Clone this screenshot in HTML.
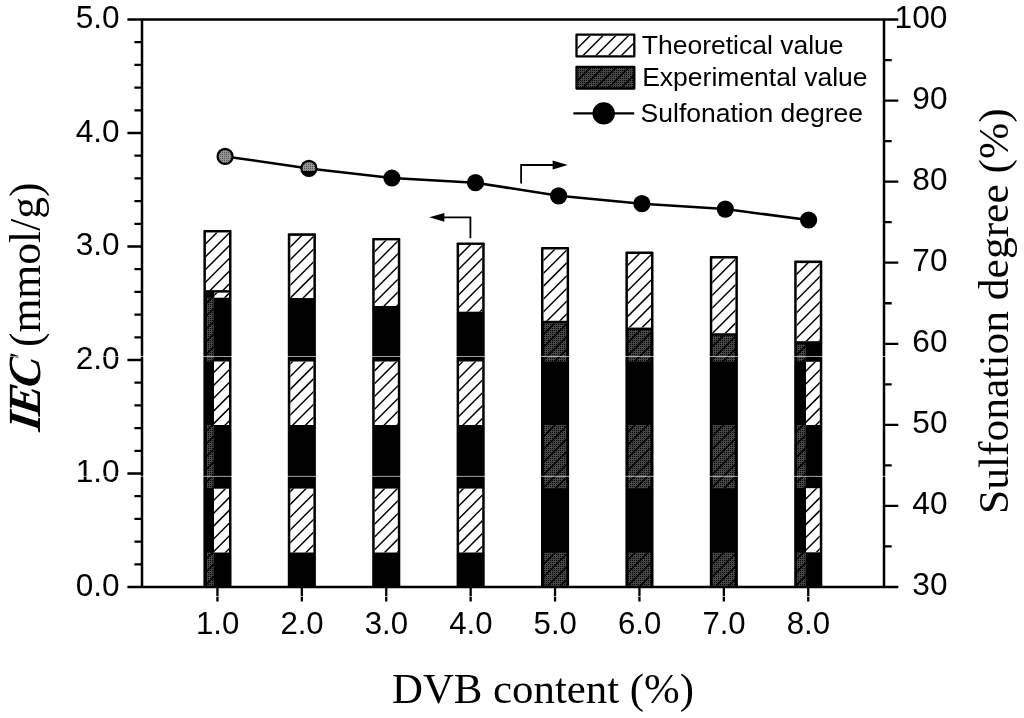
<!DOCTYPE html>
<html lang="en"><head><meta charset="utf-8"><title>IEC and sulfonation degree vs DVB content</title>
<style>html,body{margin:0;padding:0;background:#fff;}body{width:1024px;height:718px;overflow:hidden;}svg{display:block;}text{fill:#000;}</style>
</head><body>
<svg width="1024" height="718" viewBox="0 0 1024 718" role="img" aria-label="IEC and sulfonation degree versus DVB content">
<defs>
<pattern id="gp" width="2" height="2" patternUnits="userSpaceOnUse"><rect width="2" height="2" fill="#474747"/><rect x="0" y="0" width="1" height="1" fill="#000"/></pattern>
<pattern id="gl" width="2" height="2" patternUnits="userSpaceOnUse"><rect width="2" height="2" fill="#949494"/><rect x="0" y="0" width="1" height="1" fill="#555"/></pattern>
</defs>
<rect width="1024" height="718" fill="#fff"/>
<rect x="203.40" y="229.96" width="28.10" height="357.64" rx="0.9" fill="#000"/>
<rect x="205.90" y="232.46" width="23.10" height="57.65" fill="#fff"/>
<clipPath id="c1"><rect x="205.90" y="232.46" width="23.10" height="57.65"/></clipPath>
<path clip-path="url(#c1)" d="M203.90 219.98L231.00 192.88M203.90 232.76L231.00 205.66M203.90 245.54L231.00 218.44M203.90 258.32L231.00 231.22M203.90 271.10L231.00 244.00M203.90 283.88L231.00 256.78M203.90 296.66L231.00 269.56M203.90 309.44L231.00 282.34M203.90 322.22L231.00 295.12M203.90 335.00L231.00 307.90" stroke="#000" stroke-width="1.45" fill="none"/>
<rect x="214.30" y="292.62" width="14.70" height="5.08" fill="#fff"/>
<clipPath id="c2"><rect x="214.30" y="292.62" width="14.70" height="5.08"/></clipPath>
<path clip-path="url(#c2)" d="M212.30 271.74L231.00 253.04M212.30 284.51L231.00 265.81M212.30 297.29L231.00 278.59M212.30 310.08L231.00 291.38M212.30 322.86L231.00 304.15M212.30 335.63L231.00 316.93" stroke="#000" stroke-width="1.45" fill="none"/>
<rect x="206.90" y="297.70" width="6.80" height="63.80" fill="url(#gp)"/>
<clipPath id="c3"><rect x="206.90" y="297.70" width="6.80" height="63.80"/></clipPath>
<path clip-path="url(#c3)" d="M204.90 279.14L215.70 268.34M204.90 291.92L215.70 281.12M204.90 304.69L215.70 293.89M204.90 317.48L215.70 306.68M204.90 330.25L215.70 319.45M204.90 343.03L215.70 332.23M204.90 355.82L215.70 345.02M204.90 368.60L215.70 357.80M204.90 381.38L215.70 370.57M204.90 394.15L215.70 383.35" stroke="#000" stroke-width="1.65" fill="none"/>
<rect x="214.00" y="361.50" width="15.00" height="63.50" fill="#fff"/>
<clipPath id="c4"><rect x="214.00" y="361.50" width="15.00" height="63.50"/></clipPath>
<path clip-path="url(#c4)" d="M212.00 348.72L231.00 329.72M212.00 361.50L231.00 342.50M212.00 374.27L231.00 355.27M212.00 387.05L231.00 368.05M212.00 399.84L231.00 380.84M212.00 412.62L231.00 393.62M212.00 425.39L231.00 406.39M212.00 438.17L231.00 419.17M212.00 450.95L231.00 431.95M212.00 463.74L231.00 444.74" stroke="#000" stroke-width="1.45" fill="none"/>
<rect x="206.90" y="425.00" width="6.80" height="63.00" fill="url(#gp)"/>
<clipPath id="c5"><rect x="206.90" y="425.00" width="6.80" height="63.00"/></clipPath>
<path clip-path="url(#c5)" d="M204.90 406.94L215.70 396.14M204.90 419.72L215.70 408.92M204.90 432.50L215.70 421.69M204.90 445.27L215.70 434.47M204.90 458.05L215.70 447.25M204.90 470.84L215.70 460.04M204.90 483.62L215.70 472.81M204.90 496.39L215.70 485.59M204.90 509.18L215.70 498.38M204.90 521.96L215.70 511.15" stroke="#000" stroke-width="1.65" fill="none"/>
<rect x="214.00" y="488.70" width="15.00" height="63.80" fill="#fff"/>
<clipPath id="c6"><rect x="214.00" y="488.70" width="15.00" height="63.80"/></clipPath>
<path clip-path="url(#c6)" d="M212.00 476.51L231.00 457.51M212.00 489.29L231.00 470.29M212.00 502.08L231.00 483.08M212.00 514.86L231.00 495.86M212.00 527.63L231.00 508.63M212.00 540.41L231.00 521.41M212.00 553.19L231.00 534.19M212.00 565.97L231.00 546.97M212.00 578.75L231.00 559.75M212.00 591.53L231.00 572.53" stroke="#000" stroke-width="1.45" fill="none"/>
<rect x="206.90" y="552.50" width="6.80" height="33.60" fill="url(#gp)"/>
<clipPath id="c7"><rect x="206.90" y="552.50" width="6.80" height="33.60"/></clipPath>
<path clip-path="url(#c7)" d="M204.90 534.74L215.70 523.93M204.90 547.51L215.70 536.71M204.90 560.29L215.70 549.49M204.90 573.07L215.70 562.27M204.90 585.86L215.70 575.06M204.90 598.63L215.70 587.84M204.90 611.42L215.70 600.62" stroke="#000" stroke-width="1.65" fill="none"/>
<rect x="287.80" y="233.37" width="28.10" height="354.24" rx="0.9" fill="#000"/>
<rect x="290.30" y="235.87" width="23.10" height="62.19" fill="#fff"/>
<clipPath id="c8"><rect x="290.30" y="235.87" width="23.10" height="62.19"/></clipPath>
<path clip-path="url(#c8)" d="M288.30 223.38L315.40 196.28M288.30 236.16L315.40 209.06M288.30 248.94L315.40 221.84M288.30 261.72L315.40 234.62M288.30 274.50L315.40 247.40M288.30 287.28L315.40 260.18M288.30 300.06L315.40 272.96M288.30 312.84L315.40 285.74M288.30 325.62L315.40 298.52M288.30 338.40L315.40 311.30" stroke="#000" stroke-width="1.45" fill="none"/>
<rect x="290.30" y="361.50" width="23.10" height="63.50" fill="#fff"/>
<clipPath id="c9"><rect x="290.30" y="361.50" width="23.10" height="63.50"/></clipPath>
<path clip-path="url(#c9)" d="M288.30 340.20L315.40 313.10M288.30 352.98L315.40 325.88M288.30 365.76L315.40 338.66M288.30 378.54L315.40 351.44M288.30 391.32L315.40 364.22M288.30 404.10L315.40 377.00M288.30 416.88L315.40 389.78M288.30 429.66L315.40 402.56M288.30 442.44L315.40 415.34M288.30 455.22L315.40 428.12M288.30 468.00L315.40 440.90" stroke="#000" stroke-width="1.45" fill="none"/>
<rect x="290.30" y="488.60" width="23.10" height="63.90" fill="#fff"/>
<clipPath id="c10"><rect x="290.30" y="488.60" width="23.10" height="63.90"/></clipPath>
<path clip-path="url(#c10)" d="M288.30 468.00L315.40 440.90M288.30 480.78L315.40 453.68M288.30 493.56L315.40 466.46M288.30 506.34L315.40 479.24M288.30 519.12L315.40 492.02M288.30 531.90L315.40 504.80M288.30 544.68L315.40 517.58M288.30 557.46L315.40 530.36M288.30 570.24L315.40 543.14M288.30 583.02L315.40 555.92M288.30 595.80L315.40 568.70" stroke="#000" stroke-width="1.45" fill="none"/>
<rect x="372.20" y="237.91" width="28.10" height="349.69" rx="0.9" fill="#000"/>
<rect x="374.70" y="240.41" width="23.10" height="65.60" fill="#fff"/>
<clipPath id="c11"><rect x="374.70" y="240.41" width="23.10" height="65.60"/></clipPath>
<path clip-path="url(#c11)" d="M372.70 227.93L399.80 200.82M372.70 240.70L399.80 213.60M372.70 253.48L399.80 226.38M372.70 266.26L399.80 239.16M372.70 279.05L399.80 251.94M372.70 291.82L399.80 264.72M372.70 304.60L399.80 277.50M372.70 317.38L399.80 290.28M372.70 330.17L399.80 303.06M372.70 342.94L399.80 315.84M372.70 355.72L399.80 328.62" stroke="#000" stroke-width="1.45" fill="none"/>
<rect x="374.70" y="361.50" width="23.10" height="63.50" fill="#fff"/>
<clipPath id="c12"><rect x="374.70" y="361.50" width="23.10" height="63.50"/></clipPath>
<path clip-path="url(#c12)" d="M372.70 347.14L399.80 320.04M372.70 359.92L399.80 332.82M372.70 372.70L399.80 345.60M372.70 385.48L399.80 358.38M372.70 398.26L399.80 371.16M372.70 411.04L399.80 383.94M372.70 423.82L399.80 396.72M372.70 436.60L399.80 409.50M372.70 449.38L399.80 422.28M372.70 462.16L399.80 435.06M372.70 474.94L399.80 447.84" stroke="#000" stroke-width="1.45" fill="none"/>
<rect x="374.70" y="488.60" width="23.10" height="63.90" fill="#fff"/>
<clipPath id="c13"><rect x="374.70" y="488.60" width="23.10" height="63.90"/></clipPath>
<path clip-path="url(#c13)" d="M372.70 474.94L399.80 447.84M372.70 487.72L399.80 460.62M372.70 500.50L399.80 473.40M372.70 513.28L399.80 486.18M372.70 526.06L399.80 498.96M372.70 538.84L399.80 511.74M372.70 551.62L399.80 524.52M372.70 564.40L399.80 537.30M372.70 577.18L399.80 550.08M372.70 589.96L399.80 562.86M372.70 602.74L399.80 575.64" stroke="#000" stroke-width="1.45" fill="none"/>
<rect x="456.60" y="242.45" width="28.10" height="345.15" rx="0.9" fill="#000"/>
<rect x="459.10" y="244.95" width="23.10" height="66.73" fill="#fff"/>
<clipPath id="c14"><rect x="459.10" y="244.95" width="23.10" height="66.73"/></clipPath>
<path clip-path="url(#c14)" d="M457.10 232.47L484.20 205.37M457.10 245.25L484.20 218.15M457.10 258.03L484.20 230.93M457.10 270.81L484.20 243.70M457.10 283.59L484.20 256.49M457.10 296.37L484.20 269.27M457.10 309.15L484.20 282.05M457.10 321.93L484.20 294.82M457.10 334.71L484.20 307.61M457.10 347.49L484.20 320.39M457.10 360.27L484.20 333.17" stroke="#000" stroke-width="1.45" fill="none"/>
<rect x="459.10" y="361.50" width="23.10" height="63.50" fill="#fff"/>
<clipPath id="c15"><rect x="459.10" y="361.50" width="23.10" height="63.50"/></clipPath>
<path clip-path="url(#c15)" d="M457.10 341.54L484.20 314.44M457.10 354.32L484.20 327.22M457.10 367.10L484.20 340.00M457.10 379.88L484.20 352.78M457.10 392.66L484.20 365.56M457.10 405.44L484.20 378.34M457.10 418.22L484.20 391.12M457.10 431.00L484.20 403.90M457.10 443.78L484.20 416.68M457.10 456.56L484.20 429.46M457.10 469.34L484.20 442.24" stroke="#000" stroke-width="1.45" fill="none"/>
<rect x="459.10" y="488.60" width="23.10" height="63.90" fill="#fff"/>
<clipPath id="c16"><rect x="459.10" y="488.60" width="23.10" height="63.90"/></clipPath>
<path clip-path="url(#c16)" d="M457.10 469.34L484.20 442.24M457.10 482.12L484.20 455.02M457.10 494.90L484.20 467.80M457.10 507.68L484.20 480.58M457.10 520.46L484.20 493.36M457.10 533.24L484.20 506.14M457.10 546.02L484.20 518.92M457.10 558.80L484.20 531.70M457.10 571.58L484.20 544.48M457.10 584.36L484.20 557.26M457.10 597.14L484.20 570.04" stroke="#000" stroke-width="1.45" fill="none"/>
<rect x="541.00" y="246.99" width="28.10" height="340.62" rx="0.9" fill="#000"/>
<rect x="543.50" y="249.49" width="23.10" height="71.28" fill="#fff"/>
<clipPath id="c17"><rect x="543.50" y="249.49" width="23.10" height="71.28"/></clipPath>
<path clip-path="url(#c17)" d="M541.50 237.00L568.60 209.91M541.50 249.78L568.60 222.69M541.50 262.56L568.60 235.47M541.50 275.34L568.60 248.25M541.50 288.12L568.60 261.03M541.50 300.90L568.60 273.81M541.50 313.68L568.60 286.59M541.50 326.46L568.60 299.37M541.50 339.25L568.60 312.15M541.50 352.02L568.60 324.93M541.50 364.80L568.60 337.71" stroke="#000" stroke-width="1.45" fill="none"/>
<rect x="543.90" y="323.26" width="22.30" height="38.24" fill="url(#gp)"/>
<clipPath id="c18"><rect x="543.90" y="323.26" width="22.30" height="38.24"/></clipPath>
<path clip-path="url(#c18)" d="M541.90 310.38L568.20 284.08M541.90 323.16L568.20 296.86M541.90 335.94L568.20 309.64M541.90 348.72L568.20 322.42M541.90 361.50L568.20 335.20M541.90 374.28L568.20 347.98M541.90 387.06L568.20 360.76M541.90 399.84L568.20 373.54" stroke="#000" stroke-width="1.65" fill="none"/>
<rect x="543.90" y="425.00" width="22.30" height="63.40" fill="url(#gp)"/>
<clipPath id="c19"><rect x="543.90" y="425.00" width="22.30" height="63.40"/></clipPath>
<path clip-path="url(#c19)" d="M541.90 412.62L568.20 386.32M541.90 425.40L568.20 399.10M541.90 438.18L568.20 411.88M541.90 450.96L568.20 424.66M541.90 463.74L568.20 437.44M541.90 476.52L568.20 450.22M541.90 489.30L568.20 463.00M541.90 502.08L568.20 475.78M541.90 514.86L568.20 488.56M541.90 527.64L568.20 501.34" stroke="#000" stroke-width="1.65" fill="none"/>
<rect x="543.90" y="552.50" width="22.30" height="33.60" fill="url(#gp)"/>
<clipPath id="c20"><rect x="543.90" y="552.50" width="22.30" height="33.60"/></clipPath>
<path clip-path="url(#c20)" d="M541.90 540.42L568.20 514.12M541.90 553.20L568.20 526.90M541.90 565.98L568.20 539.68M541.90 578.76L568.20 552.46M541.90 591.54L568.20 565.24M541.90 604.32L568.20 578.02M541.90 617.10L568.20 590.80M541.90 629.88L568.20 603.58" stroke="#000" stroke-width="1.65" fill="none"/>
<rect x="625.40" y="251.52" width="28.10" height="336.08" rx="0.9" fill="#000"/>
<rect x="627.90" y="254.02" width="23.10" height="73.55" fill="#fff"/>
<clipPath id="c21"><rect x="627.90" y="254.02" width="23.10" height="73.55"/></clipPath>
<path clip-path="url(#c21)" d="M625.90 241.54L653.00 214.45M625.90 254.32L653.00 227.23M625.90 267.10L653.00 240.00M625.90 279.88L653.00 252.78M625.90 292.66L653.00 265.57M625.90 305.44L653.00 278.35M625.90 318.22L653.00 291.12M625.90 331.00L653.00 303.90M625.90 343.78L653.00 316.69M625.90 356.56L653.00 329.47M625.90 369.34L653.00 342.25" stroke="#000" stroke-width="1.45" fill="none"/>
<rect x="628.30" y="330.07" width="22.30" height="31.43" fill="url(#gp)"/>
<clipPath id="c22"><rect x="628.30" y="330.07" width="22.30" height="31.43"/></clipPath>
<path clip-path="url(#c22)" d="M626.30 318.69L652.60 292.39M626.30 331.47L652.60 305.17M626.30 344.25L652.60 317.95M626.30 357.03L652.60 330.73M626.30 369.81L652.60 343.51M626.30 382.59L652.60 356.29M626.30 395.37L652.60 369.07M626.30 408.15L652.60 381.85" stroke="#000" stroke-width="1.65" fill="none"/>
<rect x="628.30" y="425.00" width="22.30" height="63.40" fill="url(#gp)"/>
<clipPath id="c23"><rect x="628.30" y="425.00" width="22.30" height="63.40"/></clipPath>
<path clip-path="url(#c23)" d="M626.30 408.15L652.60 381.85M626.30 420.93L652.60 394.63M626.30 433.71L652.60 407.41M626.30 446.49L652.60 420.19M626.30 459.27L652.60 432.97M626.30 472.05L652.60 445.75M626.30 484.83L652.60 458.53M626.30 497.61L652.60 471.31M626.30 510.39L652.60 484.09M626.30 523.17L652.60 496.87M626.30 535.95L652.60 509.65" stroke="#000" stroke-width="1.65" fill="none"/>
<rect x="628.30" y="552.50" width="22.30" height="33.60" fill="url(#gp)"/>
<clipPath id="c24"><rect x="628.30" y="552.50" width="22.30" height="33.60"/></clipPath>
<path clip-path="url(#c24)" d="M626.30 535.95L652.60 509.65M626.30 548.73L652.60 522.43M626.30 561.51L652.60 535.21M626.30 574.29L652.60 547.99M626.30 587.07L652.60 560.77M626.30 599.85L652.60 573.55M626.30 612.63L652.60 586.33M626.30 625.41L652.60 599.11" stroke="#000" stroke-width="1.65" fill="none"/>
<rect x="709.80" y="256.06" width="28.10" height="331.54" rx="0.9" fill="#000"/>
<rect x="712.30" y="258.56" width="23.10" height="74.68" fill="#fff"/>
<clipPath id="c25"><rect x="712.30" y="258.56" width="23.10" height="74.68"/></clipPath>
<path clip-path="url(#c25)" d="M710.30 246.08L737.40 218.99M710.30 258.86L737.40 231.76M710.30 271.64L737.40 244.54M710.30 284.42L737.40 257.32M710.30 297.20L737.40 270.11M710.30 309.98L737.40 282.88M710.30 322.76L737.40 295.67M710.30 335.54L737.40 308.45M710.30 348.32L737.40 321.23M710.30 361.10L737.40 334.00M710.30 373.88L737.40 346.78" stroke="#000" stroke-width="1.45" fill="none"/>
<rect x="712.70" y="335.75" width="22.30" height="25.75" fill="url(#gp)"/>
<clipPath id="c26"><rect x="712.70" y="335.75" width="22.30" height="25.75"/></clipPath>
<path clip-path="url(#c26)" d="M710.70 322.87L737.00 296.57M710.70 335.64L737.00 309.35M710.70 348.42L737.00 322.12M710.70 361.20L737.00 334.90M710.70 373.98L737.00 347.68M710.70 386.76L737.00 360.46M710.70 399.55L737.00 373.25" stroke="#000" stroke-width="1.65" fill="none"/>
<rect x="712.70" y="425.00" width="22.30" height="63.40" fill="url(#gp)"/>
<clipPath id="c27"><rect x="712.70" y="425.00" width="22.30" height="63.40"/></clipPath>
<path clip-path="url(#c27)" d="M710.70 412.33L737.00 386.03M710.70 425.11L737.00 398.81M710.70 437.88L737.00 411.59M710.70 450.66L737.00 424.37M710.70 463.44L737.00 437.14M710.70 476.22L737.00 449.92M710.70 489.00L737.00 462.70M710.70 501.79L737.00 475.49M710.70 514.57L737.00 488.27M710.70 527.35L737.00 501.05" stroke="#000" stroke-width="1.65" fill="none"/>
<rect x="712.70" y="552.50" width="22.30" height="33.60" fill="url(#gp)"/>
<clipPath id="c28"><rect x="712.70" y="552.50" width="22.30" height="33.60"/></clipPath>
<path clip-path="url(#c28)" d="M710.70 540.12L737.00 513.83M710.70 552.90L737.00 526.61M710.70 565.68L737.00 539.38M710.70 578.46L737.00 552.16M710.70 591.24L737.00 564.94M710.70 604.02L737.00 577.72M710.70 616.81L737.00 590.51M710.70 629.59L737.00 603.29" stroke="#000" stroke-width="1.65" fill="none"/>
<rect x="794.20" y="260.61" width="28.10" height="327.00" rx="0.9" fill="#000"/>
<rect x="796.70" y="263.11" width="23.10" height="78.08" fill="#fff"/>
<clipPath id="c29"><rect x="796.70" y="263.11" width="23.10" height="78.08"/></clipPath>
<path clip-path="url(#c29)" d="M794.70 250.62L821.80 223.53M794.70 263.40L821.80 236.31M794.70 276.18L821.80 249.09M794.70 288.96L821.80 261.87M794.70 301.74L821.80 274.64M794.70 314.52L821.80 287.42M794.70 327.31L821.80 300.21M794.70 340.09L821.80 312.99M794.70 352.87L821.80 325.77M794.70 365.64L821.80 338.55M794.70 378.42L821.80 351.33M794.70 391.20L821.80 364.11" stroke="#000" stroke-width="1.45" fill="none"/>
<rect x="797.10" y="344.49" width="8.60" height="16.91" fill="url(#gp)"/>
<clipPath id="c30"><rect x="797.10" y="344.49" width="8.60" height="16.91"/></clipPath>
<path clip-path="url(#c30)" d="M795.10 330.81L807.70 318.21M795.10 343.59L807.70 330.99M795.10 356.37L807.70 343.77M795.10 369.15L807.70 356.55M795.10 381.93L807.70 369.33M795.10 394.71L807.70 382.11" stroke="#000" stroke-width="1.65" fill="none"/>
<rect x="806.00" y="361.80" width="13.80" height="63.20" fill="#fff"/>
<clipPath id="c31"><rect x="806.00" y="361.80" width="13.80" height="63.20"/></clipPath>
<path clip-path="url(#c31)" d="M804.00 347.47L821.80 329.67M804.00 360.25L821.80 342.45M804.00 373.03L821.80 355.23M804.00 385.81L821.80 368.01M804.00 398.59L821.80 380.79M804.00 411.37L821.80 393.57M804.00 424.15L821.80 406.35M804.00 436.93L821.80 419.13M804.00 449.71L821.80 431.91M804.00 462.49L821.80 444.69" stroke="#000" stroke-width="1.45" fill="none"/>
<rect x="797.10" y="425.00" width="8.60" height="63.00" fill="url(#gp)"/>
<clipPath id="c32"><rect x="797.10" y="425.00" width="8.60" height="63.00"/></clipPath>
<path clip-path="url(#c32)" d="M795.10 407.49L807.70 394.89M795.10 420.27L807.70 407.67M795.10 433.05L807.70 420.45M795.10 445.83L807.70 433.23M795.10 458.61L807.70 446.01M795.10 471.39L807.70 458.79M795.10 484.17L807.70 471.57M795.10 496.95L807.70 484.35M795.10 509.73L807.70 497.13M795.10 522.51L807.70 509.91" stroke="#000" stroke-width="1.65" fill="none"/>
<rect x="806.00" y="488.20" width="13.80" height="64.10" fill="#fff"/>
<clipPath id="c33"><rect x="806.00" y="488.20" width="13.80" height="64.10"/></clipPath>
<path clip-path="url(#c33)" d="M804.00 475.27L821.80 457.47M804.00 488.05L821.80 470.25M804.00 500.83L821.80 483.03M804.00 513.61L821.80 495.81M804.00 526.39L821.80 508.59M804.00 539.17L821.80 521.37M804.00 551.95L821.80 534.15M804.00 564.73L821.80 546.93M804.00 577.51L821.80 559.71M804.00 590.29L821.80 572.49" stroke="#000" stroke-width="1.45" fill="none"/>
<rect x="797.10" y="552.50" width="8.60" height="33.60" fill="url(#gp)"/>
<clipPath id="c34"><rect x="797.10" y="552.50" width="8.60" height="33.60"/></clipPath>
<path clip-path="url(#c34)" d="M795.10 535.29L807.70 522.69M795.10 548.07L807.70 535.47M795.10 560.85L807.70 548.25M795.10 573.63L807.70 561.03M795.10 586.41L807.70 573.81M795.10 599.19L807.70 586.59M795.10 611.97L807.70 599.37" stroke="#000" stroke-width="1.65" fill="none"/>
<g stroke="#000" stroke-width="2.5" fill="none">
<path d="M127.40 19.5H898.30M127.40 587.0H898.30M142.0 19.5V587.0M884.0 19.5V587.0"/>
<path d="M134.40 42.20H142.0M134.40 64.90H142.0M134.40 87.60H142.0M134.40 110.30H142.0M127.40 133.00H142.0M134.40 155.70H142.0M134.40 178.40H142.0M134.40 201.10H142.0M134.40 223.80H142.0M127.40 246.50H142.0M134.40 269.20H142.0M134.40 291.90H142.0M134.40 314.60H142.0M134.40 337.30H142.0M127.40 360.00H142.0M134.40 382.70H142.0M134.40 405.40H142.0M134.40 428.10H142.0M134.40 450.80H142.0M127.40 473.50H142.0M134.40 496.20H142.0M134.40 518.90H142.0M134.40 541.60H142.0M134.40 564.30H142.0M884.0 60.04H891.70M884.0 100.57H898.30M884.0 141.11H891.70M884.0 181.64H898.30M884.0 222.18H891.70M884.0 262.71H898.30M884.0 303.25H891.70M884.0 343.79H898.30M884.0 384.32H891.70M884.0 424.86H898.30M884.0 465.39H891.70M884.0 505.93H898.30M884.0 546.46H891.70M217.45 587.0V601.60M301.85 587.0V601.60M386.25 587.0V601.60M470.65 587.0V601.60M555.05 587.0V601.60M639.45 587.0V601.60M723.85 587.0V601.60M808.25 587.0V601.60" stroke-width="2.3"/>
</g>
<g font-family='"Liberation Sans", Arial, sans-serif' font-size="30.5">
<text x="119.7" y="28.00" text-anchor="end" textLength="44.0" lengthAdjust="spacingAndGlyphs">5.0</text>
<text x="119.7" y="141.50" text-anchor="end" textLength="44.0" lengthAdjust="spacingAndGlyphs">4.0</text>
<text x="119.7" y="255.00" text-anchor="end" textLength="44.0" lengthAdjust="spacingAndGlyphs">3.0</text>
<text x="119.7" y="368.50" text-anchor="end" textLength="44.0" lengthAdjust="spacingAndGlyphs">2.0</text>
<text x="119.7" y="482.00" text-anchor="end" textLength="44.0" lengthAdjust="spacingAndGlyphs">1.0</text>
<text x="119.7" y="595.50" text-anchor="end" textLength="44.0" lengthAdjust="spacingAndGlyphs">0.0</text>
<text x="947.5" y="27.70" text-anchor="end" textLength="52.9" lengthAdjust="spacingAndGlyphs">100</text>
<text x="947.5" y="108.77" text-anchor="end" textLength="35.2" lengthAdjust="spacingAndGlyphs">90</text>
<text x="947.5" y="189.84" text-anchor="end" textLength="35.2" lengthAdjust="spacingAndGlyphs">80</text>
<text x="947.5" y="270.91" text-anchor="end" textLength="35.2" lengthAdjust="spacingAndGlyphs">70</text>
<text x="947.5" y="351.99" text-anchor="end" textLength="35.2" lengthAdjust="spacingAndGlyphs">60</text>
<text x="947.5" y="433.06" text-anchor="end" textLength="35.2" lengthAdjust="spacingAndGlyphs">50</text>
<text x="947.5" y="514.13" text-anchor="end" textLength="35.2" lengthAdjust="spacingAndGlyphs">40</text>
<text x="947.5" y="595.20" text-anchor="end" textLength="35.2" lengthAdjust="spacingAndGlyphs">30</text>
<text x="217.65" y="634.2" text-anchor="middle" textLength="43.3" lengthAdjust="spacingAndGlyphs">1.0</text>
<text x="302.05" y="634.2" text-anchor="middle" textLength="43.3" lengthAdjust="spacingAndGlyphs">2.0</text>
<text x="386.45" y="634.2" text-anchor="middle" textLength="43.3" lengthAdjust="spacingAndGlyphs">3.0</text>
<text x="470.85" y="634.2" text-anchor="middle" textLength="43.3" lengthAdjust="spacingAndGlyphs">4.0</text>
<text x="555.25" y="634.2" text-anchor="middle" textLength="43.3" lengthAdjust="spacingAndGlyphs">5.0</text>
<text x="639.65" y="634.2" text-anchor="middle" textLength="43.3" lengthAdjust="spacingAndGlyphs">6.0</text>
<text x="724.05" y="634.2" text-anchor="middle" textLength="43.3" lengthAdjust="spacingAndGlyphs">7.0</text>
<text x="808.45" y="634.2" text-anchor="middle" textLength="43.3" lengthAdjust="spacingAndGlyphs">8.0</text>
</g>
<g font-family='"Liberation Serif", "Times New Roman", serif' font-size="43">
<text x="392" y="703.4" textLength="302" lengthAdjust="spacingAndGlyphs">DVB content (%)</text>
<text transform="translate(39.8 432.0) rotate(-90) skewX(-8)" font-weight="bold" font-style="italic" font-size="46" letter-spacing="-2.7">IEC</text>
<text transform="translate(39.8 182.4) rotate(-90)" text-anchor="end" font-size="43.6">(mmol/g)</text>
<text transform="translate(1008 514.0) rotate(-90)" textLength="405.8" lengthAdjust="spacingAndGlyphs">Sulfonation degree (%)</text>
</g>
<polyline points="225.1,156.4 308.9,168.4 391.9,178.0 475.5,182.7 558.6,195.8 641.9,203.7 725.3,209.1 808.6,220.0" fill="none" stroke="#000" stroke-width="2.55"/>
<circle cx="225.1" cy="156.4" r="7.5" fill="url(#gl)" stroke="#000" stroke-width="2.3"/>
<circle cx="308.9" cy="168.4" r="8.6" fill="#000"/>
<clipPath id="m2"><rect x="298.9" y="158.4" width="20" height="12.60"/></clipPath>
<circle cx="308.9" cy="168.4" r="6.4" fill="url(#gl)" clip-path="url(#m2)"/>
<circle cx="391.9" cy="178.0" r="8.6" fill="#000"/>
<circle cx="475.5" cy="182.7" r="8.6" fill="#000"/>
<circle cx="558.6" cy="195.8" r="8.6" fill="#000"/>
<circle cx="641.9" cy="203.7" r="8.6" fill="#000"/>
<circle cx="725.3" cy="209.1" r="8.6" fill="#000"/>
<circle cx="808.6" cy="220.0" r="8.6" fill="#000"/>
<g stroke="#000" stroke-width="1.8" fill="none">
<path d="M521.1 183.6V165H553"/>
<path d="M470.4 238.3V217.3H444"/>
</g>
<path d="M567.8 165L552.6 160.5V169.5Z" fill="#000"/>
<path d="M429.3 217.3L444.4 212.9V221.7Z" fill="#000"/>
<rect x="576.5" y="34.6" width="57.8" height="21.8" fill="#fff" stroke="#000" stroke-width="2.3" stroke-linejoin="round"/>
<clipPath id="c35"><rect x="577.60" y="35.70" width="55.60" height="19.60"/></clipPath>
<path clip-path="url(#c35)" d="M575.60 24.66L635.20 -34.94M575.60 37.44L635.20 -22.16M575.60 50.22L635.20 -9.38M575.60 63.00L635.20 3.40M575.60 75.78L635.20 16.18M575.60 88.56L635.20 28.96M575.60 101.34L635.20 41.74M575.60 114.12L635.20 54.52M575.60 126.90L635.20 67.30" stroke="#000" stroke-width="1.45" fill="none"/>
<rect x="576.5" y="66.8" width="57.8" height="21.7" fill="url(#gp)" stroke="#000" stroke-width="2.3" stroke-linejoin="round"/>
<clipPath id="c36"><rect x="577.60" y="67.90" width="55.60" height="19.50"/></clipPath>
<path clip-path="url(#c36)" d="M575.60 56.86L635.20 -2.74M575.60 69.64L635.20 10.04M575.60 82.42L635.20 22.82M575.60 95.20L635.20 35.60M575.60 107.98L635.20 48.38M575.60 120.76L635.20 61.16M575.60 133.54L635.20 73.94M575.60 146.32L635.20 86.72M575.60 159.10L635.20 99.50" stroke="#000" stroke-width="1.65" fill="none"/>
<path d="M573.4 113.4H634.2" stroke="#000" stroke-width="2.2"/>
<circle cx="603.7" cy="113.4" r="11.2" fill="#000"/>
<g font-family='"Liberation Sans", Arial, sans-serif' font-size="26.5">
<text x="641.8" y="54.0">Theoretical value</text>
<text x="642.2" y="86.0">Experimental value</text>
<text x="640.6" y="122.3">Sulfonation degree</text>
</g>
<rect x="0" y="356.00" width="1024" height="0.8" fill="#fff" fill-opacity="0.8"/>
<rect x="0" y="475.90" width="1024" height="0.8" fill="#fff" fill-opacity="0.8"/>
<rect x="0" y="596.00" width="1024" height="0.8" fill="#fff" fill-opacity="0.8"/>
</svg>
</body></html>
